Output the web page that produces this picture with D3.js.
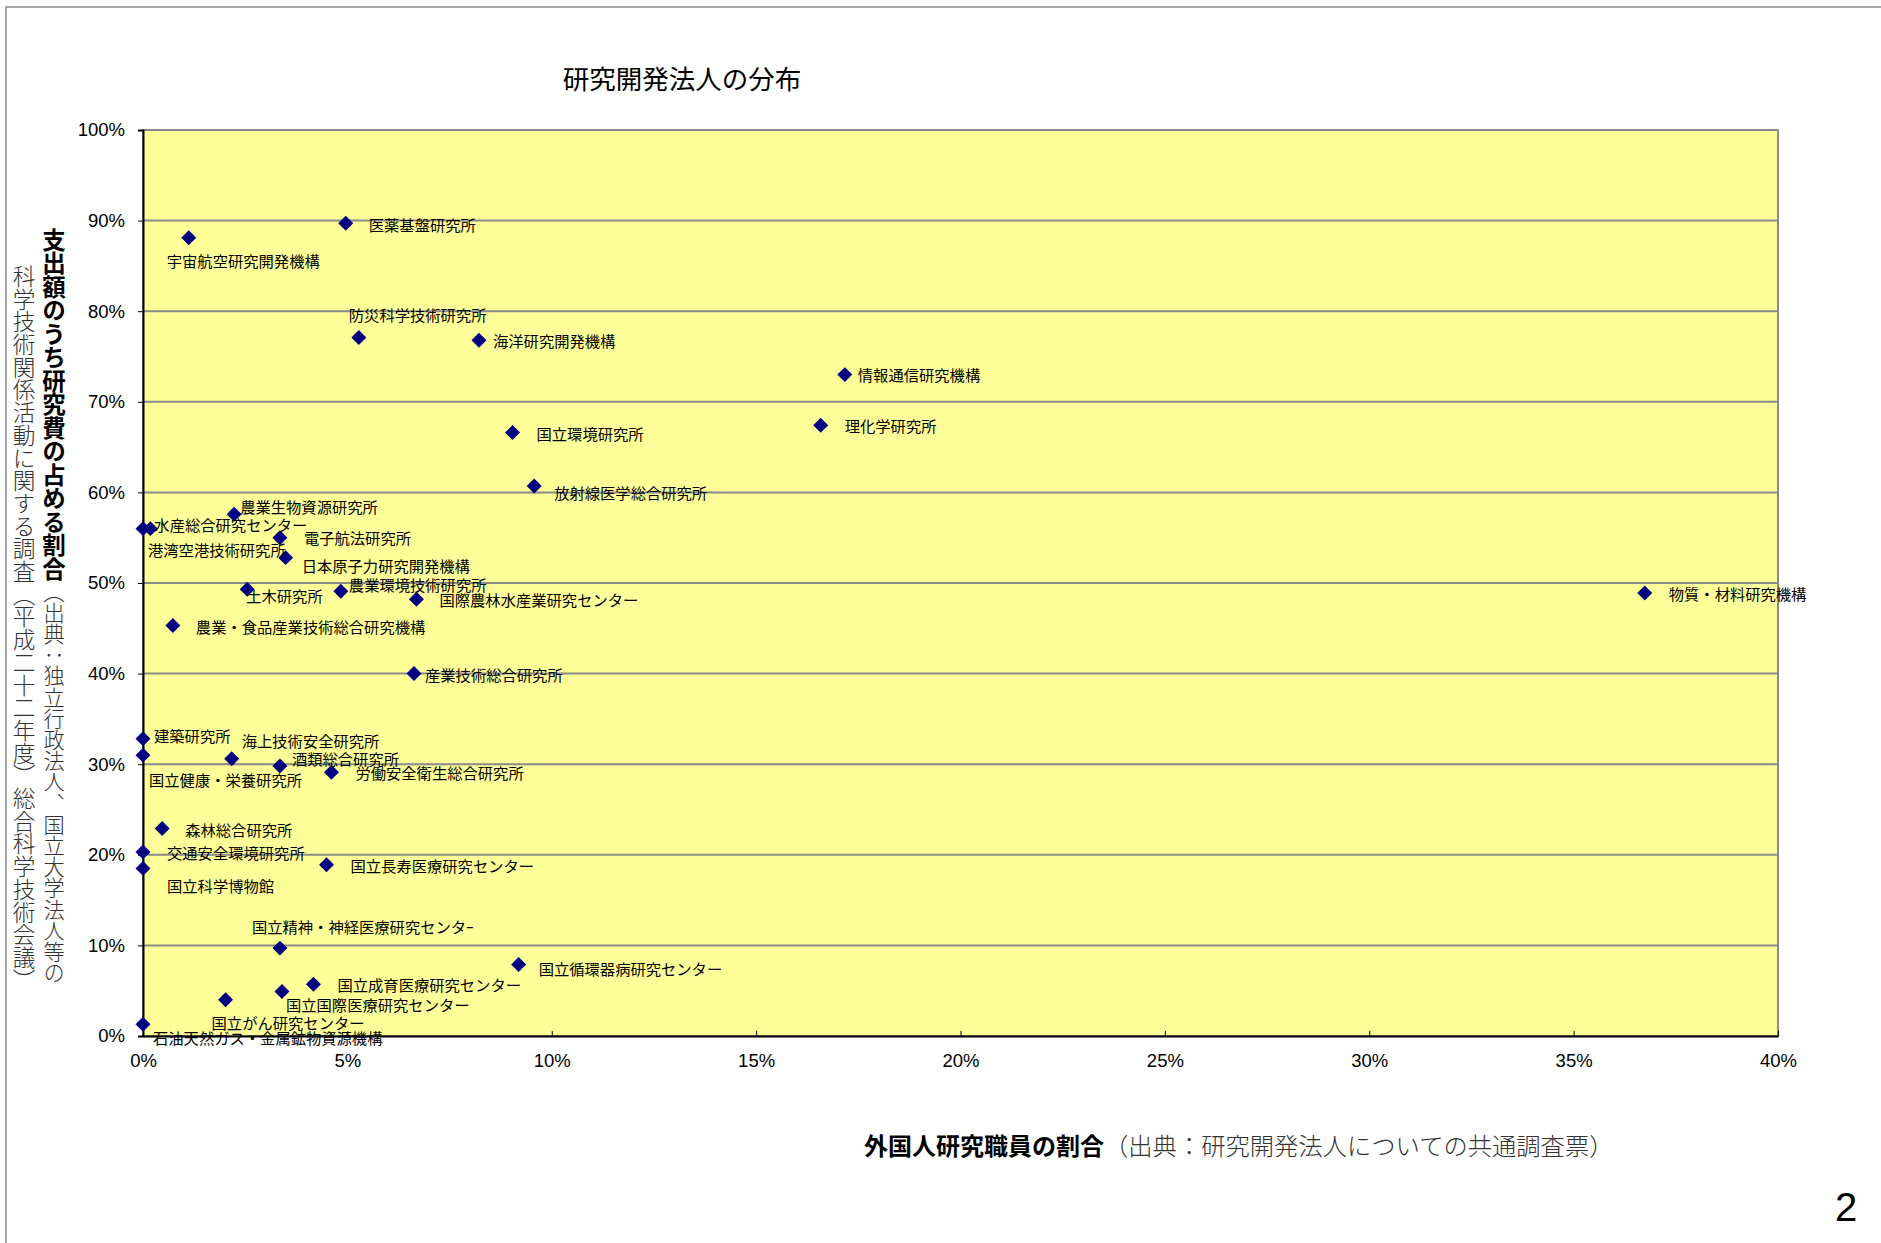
<!DOCTYPE html>
<html>
<head>
<meta charset="utf-8">
<script src="https://cdn.jsdelivr.net/npm/d3@7"></script>
<style>
  body { margin: 0; background: #fff; }
  svg { display: block; }
</style>
</head>
<body>
<div id="chart"></div>
<script>
// Set variables
const FRAME_WIDTH = 1881;
const FRAME_HEIGHT = 1243;
const MARGINS = {left: 143, right: 103, top: 130, bottom: 207};
const VIS_WIDTH = FRAME_WIDTH - MARGINS.left - MARGINS.right;
const VIS_HEIGHT = FRAME_HEIGHT - MARGINS.top - MARGINS.bottom;

// Data
const names = [
  "医薬基盤研究所", "宇宙航空研究開発機構", "防災科学技術研究所", "海洋研究開発機構",
  "情報通信研究機構", "理化学研究所", "国立環境研究所", "放射線医学総合研究所",
  "農業生物資源研究所", "水産総合研究センター", "港湾空港技術研究所", "電子航法研究所",
  "日本原子力研究開発機構", "土木研究所", "農業環境技術研究所", "国際農林水産業研究センター",
  "物質・材料研究機構", "農業・食品産業技術総合研究機構", "産業技術総合研究所", "建築研究所",
  "国立健康・栄養研究所", "海上技術安全研究所", "酒類総合研究所", "労働安全衛生総合研究所",
  "森林総合研究所", "交通安全環境研究所", "国立科学博物館", "国立長寿医療研究センター",
  "国立精神・神経医療研究センタｰ", "国立循環器病研究センター", "国立成育医療研究センター",
  "国立国際医療研究センター", "国立がん研究センター", "石油天然ガス・金属鉱物資源機構"
];
// share of foreign researchers (x)
const foreignShare = [
  0.0496, 0.0112, 0.0528, 0.0822, 0.1717, 0.1658, 0.0904, 0.0957,
  0.0223, 0.0018, 0.0000, 0.0335, 0.0349, 0.0255, 0.0484, 0.0669,
  0.3674, 0.0073, 0.0663, 0.0000, 0.0000, 0.0217, 0.0335, 0.0461,
  0.0047, 0.0000, 0.0000, 0.0449, 0.0335, 0.0919, 0.0417, 0.0340,
  0.0202, 0.0000
];
// share of research cost in expenditure (y)
const researchShare = [
  0.897, 0.881, 0.771, 0.768, 0.730, 0.674, 0.666, 0.607,
  0.576, 0.560, 0.560, 0.550, 0.528, 0.493, 0.491, 0.482,
  0.489, 0.453, 0.400, 0.328, 0.310, 0.306, 0.298, 0.291,
  0.229, 0.203, 0.185, 0.189, 0.097, 0.079, 0.057, 0.049,
  0.040, 0.013
];
const xTicks = [0, 0.05, 0.10, 0.15, 0.20, 0.25, 0.30, 0.35, 0.40];
const yTicks = [0, 0.1, 0.2, 0.3, 0.4, 0.5, 0.6, 0.7, 0.8, 0.9, 1.0];

// label placement next to each marker [dx, dy]
const labelOffsets = [
  [23, 1], [-22, 22], [-10, -23], [14, 0], [13, -1], [24, 0], [24, 0], [20, 6],
  [6, -8], [4, -5], [5, 20], [24, -1], [16, 7], [-1, 6], [8, -7], [23, 0],
  [24, 0], [23, 0], [11, 0], [11, -4], [6, 24], [10, -19], [12, -8], [24, 0],
  [23, 0], [24, 0], [24, 17], [24, 0], [-28, -22], [20, 4], [24, 0], [4, 12],
  [-14, 22], [10, 13]
];

const data = names.map((n, i) => ({name: n, x: foreignShare[i], y: researchShare[i],
                                   dx: labelOffsets[i][0], dy: labelOffsets[i][1]}));

const SVG = d3.select("#chart")
              .append("svg")
                .attr("width", FRAME_WIDTH)
                .attr("height", FRAME_HEIGHT);

// page frame
SVG.append("rect")
    .attr("x", 6).attr("y", 7)
    .attr("width", FRAME_WIDTH + 10).attr("height", FRAME_HEIGHT + 10)
    .attr("fill", "none")
    .attr("stroke", "#8a8a8a")
    .attr("stroke-width", 1.5);

const X_SCALE = d3.scaleLinear().domain([0, 0.4]).range([0, VIS_WIDTH]);
const Y_SCALE = d3.scaleLinear().domain([0, 1]).range([VIS_HEIGHT, 0]);

const PLOT = SVG.append("g")
    .attr("transform", "translate(" + MARGINS.left + "," + MARGINS.top + ")");

// plot area
PLOT.append("rect")
    .attr("width", VIS_WIDTH)
    .attr("height", VIS_HEIGHT)
    .attr("fill", "#ffff99")
    .attr("stroke", "#8a8a8a")
    .attr("stroke-width", 2);

// gridlines
PLOT.selectAll(".grid")
    .data(yTicks.slice(1, -1))
    .enter()
    .append("line")
      .attr("x1", 0).attr("x2", VIS_WIDTH)
      .attr("y1", d => Y_SCALE(d)).attr("y2", d => Y_SCALE(d))
      .attr("stroke", "#8a8a8a")
      .attr("stroke-width", 2);

// y axis
const yAxis = PLOT.append("g")
    .call(d3.axisLeft(Y_SCALE).tickValues(yTicks).tickFormat(d3.format(".0%"))
            .tickSize(5).tickPadding(13));
yAxis.select(".domain").attr("stroke", "#000").attr("stroke-width", 2);
yAxis.selectAll(".tick line").attr("stroke", "#000");
yAxis.selectAll("text")
    .attr("font-family", "'Liberation Sans', Arial, sans-serif")
    .attr("font-size", "18.5px")
    .attr("fill", "#000");

// x axis
const xAxis = PLOT.append("g")
    .attr("transform", "translate(0," + VIS_HEIGHT + ")")
    .call(d3.axisBottom(X_SCALE).tickValues(xTicks).tickFormat(d3.format(".0%"))
            .tickSizeInner(-5).tickSizeOuter(0).tickPadding(18));
xAxis.select(".domain").attr("stroke", "#000").attr("stroke-width", 2);
xAxis.selectAll(".tick line").attr("stroke", "#000");
xAxis.selectAll("text")
    .attr("font-family", "'Liberation Sans', Arial, sans-serif")
    .attr("font-size", "18.5px")
    .attr("fill", "#000");

// points
PLOT.selectAll(".point")
    .data(data)
    .enter()
    .append("path")
      .attr("d", d3.symbol().type(d3.symbolSquare).size(112))
      .attr("transform", d => "translate(" + X_SCALE(d.x) + "," + Y_SCALE(d.y) + ") rotate(45)")
      .attr("fill", "#000080");

// labels
PLOT.selectAll(".label")
    .data(data)
    .enter()
    .append("text")
      .attr("x", d => X_SCALE(d.x) + d.dx)
      .attr("y", d => Y_SCALE(d.y) + d.dy)
      .attr("dominant-baseline", "central")
      .attr("font-family", "'Noto Sans CJK JP', sans-serif")
      .attr("font-size", "15.3px")
      .attr("fill", "#000")
      .text(d => d.name);

// title
SVG.append("text")
    .attr("x", 682).attr("y", 77)
    .attr("text-anchor", "middle")
    .attr("dominant-baseline", "central")
    .attr("font-family", "'Noto Sans CJK JP', sans-serif")
    .attr("font-size", "26.5px")
    .attr("fill", "#000")
    .text("研究開発法人の分布");

// x axis title
const xTitle = SVG.append("text")
    .attr("x", 864).attr("y", 1144)
    .attr("dominant-baseline", "central")
    .attr("font-family", "'Noto Sans CJK JP', sans-serif");
xTitle.append("tspan").attr("font-size", "24px").attr("font-weight", "bold").attr("fill", "#000")
    .text("外国人研究職員の割合");
xTitle.append("tspan").attr("font-size", "24.3px").attr("font-weight", 300).attr("fill", "#333")
    .text("（出典：研究開発法人についての共通調査票）");

// y axis title (vertical, two columns)
const yTitle1 = SVG.append("text")
    .attr("x", 54).attr("y", 228)
    .style("writing-mode", "vertical-rl")
    .attr("font-family", "'Noto Sans CJK JP', sans-serif");
yTitle1.append("tspan").attr("font-size", "23.5px").attr("font-weight", "bold").attr("fill", "#000")
    .text("支出額のうち研究費の占める割合");
yTitle1.append("tspan").attr("font-size", "21.2px").attr("font-weight", 300).attr("fill", "#333")
    .text("（出典：独立行政法人、国立大学法人等の");

SVG.append("text")
    .attr("x", 24).attr("y", 265)
    .style("writing-mode", "vertical-rl")
    .attr("font-family", "'Noto Sans CJK JP', sans-serif")
    .attr("font-size", "22.7px")
    .attr("font-weight", 300)
    .attr("fill", "#333")
    .text("科学技術関係活動に関する調査（平成二十二年度）総合科学技術会議）");

// page number
SVG.append("text")
    .attr("x", 1846).attr("y", 1207)
    .attr("text-anchor", "middle")
    .attr("dominant-baseline", "central")
    .attr("font-family", "'Liberation Sans', Arial, sans-serif")
    .attr("font-size", "40px")
    .attr("fill", "#000")
    .text("2");
</script>
</body>
</html>
